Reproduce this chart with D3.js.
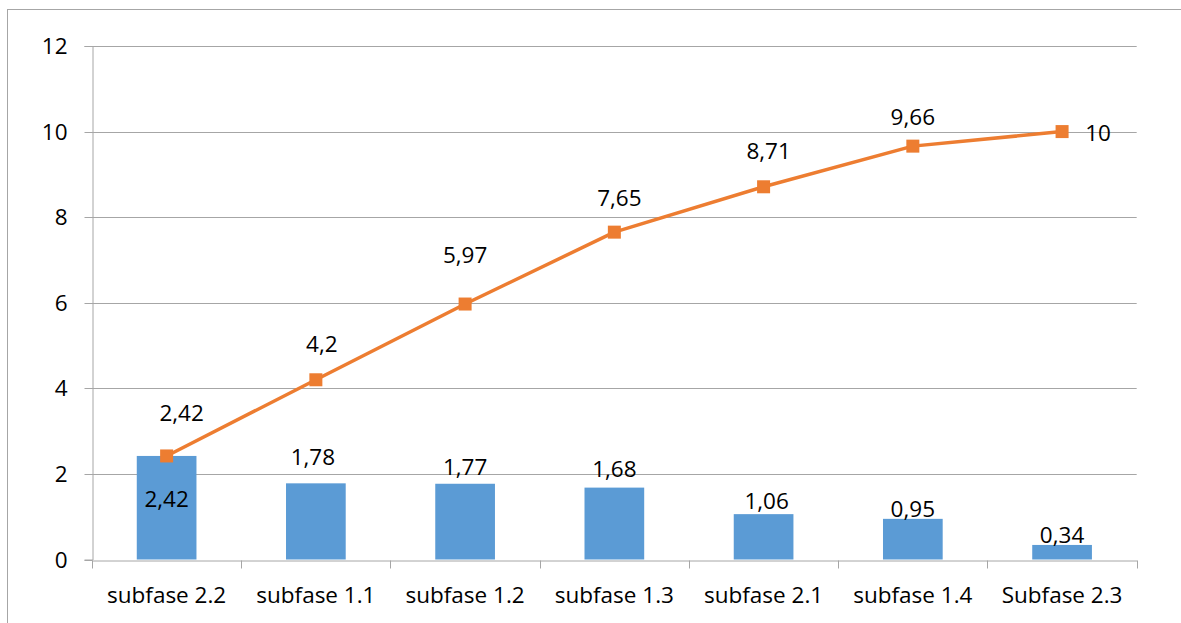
<!DOCTYPE html>
<html><head><meta charset="utf-8">
<script src="https://cdn.jsdelivr.net/npm/d3@7"></script>
<style>html,body{margin:0;padding:0;background:#fff;overflow:hidden;}svg{display:block;}</style>
</head><body>
<script>
// ---- data ----
const categories = ["subfase 2.2","subfase 1.1","subfase 1.2","subfase 1.3","subfase 2.1","subfase 1.4","Subfase 2.3"];
const barValues  = [2.42, 1.78, 1.77, 1.68, 1.06, 0.95, 0.34];
const lineValues = [2.42, 4.2, 5.97, 7.65, 8.71, 9.66, 10];
const barLabels  = ["2,42","1,78","1,77","1,68","1,06","0,95","0,34"];
const lineLabels = ["2,42","4,2","5,97","7,65","8,71","9,66","10"];
const yTicks = [0,2,4,6,8,10,12];

// ---- label layout offsets (px, relative to the mark) ----
const barLabelOffset  = [[0,51],[-3,-18],[0,-9],[0,-11],[3,-5],[0,-2],[0,-2]];
const lineLabelOffset = [[15,-35],[6,-28],[0,-41],[5,-26],[5,-28],[0,-21],[36,9]];

(function () {
const W = 1181, H = 623;
const mLeft = 92, mRight = 1136.7, mTop = 46, mBottom = 559.5;
const font = "'Open Sans', 'Liberation Sans', sans-serif";
const fs = 22.5;

const svg = d3.select("body").append("svg").attr("width", W).attr("height", H)
  .style("font-family", font);

svg.append("rect").attr("x", 7.5).attr("y", 9.5).attr("width", W + 10).attr("height", H + 10)
  .attr("fill", "#fff").attr("stroke", "#a6a6a6").attr("stroke-width", 1);

const x = d3.scaleBand().domain(categories).range([mLeft, mRight]).paddingInner(0).paddingOuter(0);
const y = d3.scaleLinear().domain([0, 12]).range([mBottom, mTop]);
const barW = x.bandwidth() * 0.4;

// gridlines
svg.append("g").selectAll("line").data(yTicks.filter(d => d > 0)).join("line")
  .attr("x1", mLeft).attr("x2", mRight)
  .attr("y1", d => Math.round(y(d)) + 0.5).attr("y2", d => Math.round(y(d)) + 0.5)
  .attr("stroke", "#a6a6a6").attr("stroke-width", 1);

// y axis
const yAxis = svg.append("g").attr("transform", `translate(${mLeft + 0.5},0)`)
  .call(d3.axisLeft(y).tickValues(yTicks).tickSize(8).tickPadding(17).tickFormat(d3.format("d")));
yAxis.select(".domain").attr("stroke", "#a6a6a6");
yAxis.selectAll(".tick line").attr("stroke", "#a6a6a6");
yAxis.selectAll("text").attr("font-size", fs).attr("font-family", font).attr("fill", "#000");
yAxis.selectAll(".tick").attr("transform", d => `translate(0,${Math.round(y(d)) + 0.5})`);

// bars
svg.append("g").selectAll("rect").data(barValues).join("rect")
  .attr("x", (d, i) => x(categories[i]) + (x.bandwidth() - barW) / 2)
  .attr("y", d => y(d))
  .attr("width", barW)
  .attr("height", d => y(0) - y(d))
  .attr("fill", "#5b9bd5");

// x axis
const xAxis = svg.append("g").attr("transform", `translate(0,${Math.round(mBottom) + 0.5})`)
  .call(d3.axisBottom(x).tickSize(0).tickPadding(27));
xAxis.select(".domain").attr("stroke", "#a6a6a6");
xAxis.selectAll("text").attr("font-size", fs).attr("font-family", font).attr("fill", "#000");
const seps = categories.map(c => x(c)).concat([mRight]);
xAxis.append("g").selectAll("line").data(seps).join("line")
  .attr("x1", d => Math.round(d) + 0.5).attr("x2", d => Math.round(d) + 0.5)
  .attr("y1", 0).attr("y2", 8).attr("stroke", "#a6a6a6");

// line
const cx = (i) => x(categories[i]) + x.bandwidth() / 2;
svg.append("path").datum(lineValues)
  .attr("d", d3.line().x((d, i) => cx(i)).y(d => y(d)))
  .attr("fill", "none").attr("stroke", "#ed7d31").attr("stroke-width", 3.5)
  .attr("stroke-linejoin", "round");
const ms = 13;
svg.append("g").selectAll("rect").data(lineValues).join("rect")
  .attr("x", (d, i) => cx(i) - ms / 2).attr("y", d => y(d) - ms / 2)
  .attr("width", ms).attr("height", ms).attr("fill", "#ed7d31");

// labels
svg.append("g").selectAll("text").data(barValues).join("text")
  .attr("x", (d, i) => cx(i) + barLabelOffset[i][0])
  .attr("y", (d, i) => y(d) + barLabelOffset[i][1])
  .attr("text-anchor", "middle").attr("font-size", fs).attr("fill", "#000")
  .text((d, i) => barLabels[i]);
svg.append("g").selectAll("text").data(lineValues).join("text")
  .attr("x", (d, i) => cx(i) + lineLabelOffset[i][0])
  .attr("y", (d, i) => y(d) + lineLabelOffset[i][1])
  .attr("text-anchor", "middle").attr("font-size", fs).attr("fill", "#000")
  .text((d, i) => lineLabels[i]);
})();
</script>
</body></html>
